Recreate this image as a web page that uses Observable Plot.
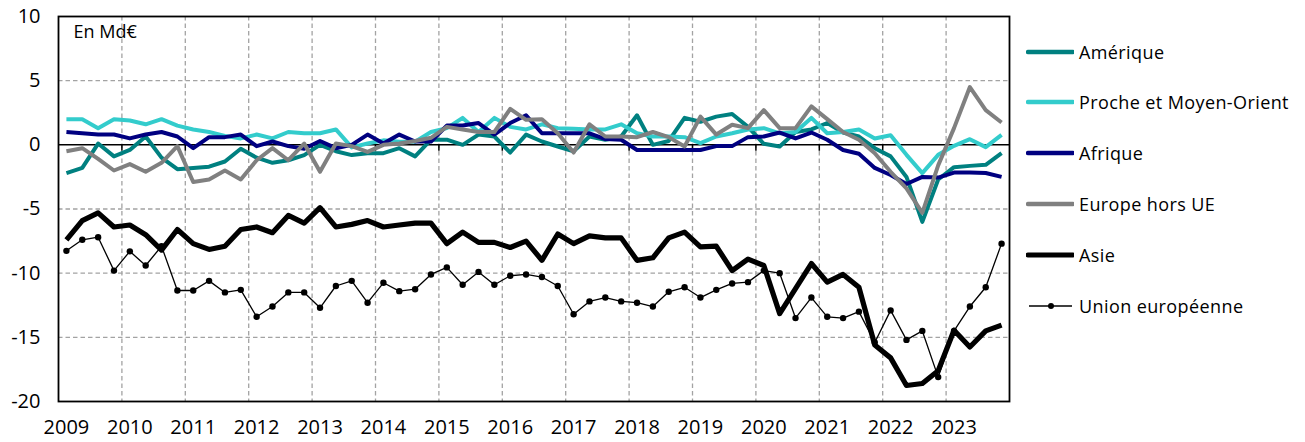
<!DOCTYPE html>
<html><head><meta charset="utf-8">
<script src="https://cdn.jsdelivr.net/npm/d3@7"></script>
<script src="https://cdn.jsdelivr.net/npm/@observablehq/plot@0.6"></script>
<style>
body{margin:0;background:#fff;font-family:"Open Sans",sans-serif;}
#wrap{position:relative;width:1305px;height:442px;overflow:hidden;}
#chart{position:absolute;left:0;top:0;}
#legend{position:absolute;left:1026px;top:0;width:279px;height:442px;}
.item{position:absolute;left:0;height:24px;display:flex;align-items:center;white-space:nowrap;font-size:18px;letter-spacing:0.4px;color:#000;}
.item svg{display:block;margin-right:5px;}
</style></head><body>
<div id="wrap"><div id="chart"></div><div id="legend"></div></div>
<script>
const startYear = 2009;
const years = [2009,2010,2011,2012,2013,2014,2015,2016,2017,2018,2019,2020,2021,2022,2023];
const yTicks = [-20,-15,-10,-5,0,5,10];
const unitLabel = "En Md€";
const seriesNames = ["Amérique","Proche et Moyen-Orient","Afrique","Europe hors UE","Asie","Union européenne"];
const seriesColors = ["#008080","#33cccc","#000080","#808080","#000000","#000000"];

const amerique = [-2.2,-1.8,0.1,-0.9,-0.4,0.65,-1.0,-1.9,-1.8,-1.7,
  -1.3,-0.3,-1.0,-1.4,-1.2,-0.8,0.0,-0.5,-0.8,-0.65,
  -0.65,-0.26,-0.9,0.4,0.4,0.0,0.8,0.65,-0.6,0.8,
  0.26,-0.13,-0.5,0.65,0.4,0.65,2.3,0.0,0.3,2.1,
  1.8,2.2,2.4,1.4,0.08,-0.13,1.0,1.2,1.7,0.96,
  0.65,-0.26,-0.9,-2.5,-6.0,-2.7,-1.74,-1.64,-1.56,-0.65];
const proche = [2.0,2.0,1.3,2.0,1.9,1.6,2.0,1.5,1.2,1.0,
  0.7,0.5,0.8,0.5,1.0,0.9,0.9,1.2,-0.2,0.1,
  0.35,0.25,0.25,1.0,1.3,2.1,1.0,2.1,1.4,1.2,
  1.6,1.3,1.25,1.2,1.2,1.6,0.9,0.65,0.65,0.6,
  0.13,0.65,0.9,1.2,1.3,0.9,1.0,2.1,0.9,1.0,
  1.2,0.5,0.75,-0.78,-2.2,-0.78,-0.08,0.44,-0.18,0.78];
const afrique = [1.0,0.9,0.8,0.8,0.5,0.8,1.0,0.65,-0.26,0.6,
  0.6,0.8,-0.1,0.26,-0.1,-0.3,0.3,-0.26,0.0,0.8,
  0.1,0.8,0.26,0.26,1.5,1.5,1.7,0.8,1.7,2.3,
  0.9,0.9,0.9,0.9,0.45,0.4,-0.4,-0.4,-0.4,-0.4,
  -0.4,-0.1,-0.1,0.6,0.65,0.96,0.5,0.96,0.4,-0.4,
  -0.7,-1.8,-2.35,-3.05,-2.5,-2.55,-2.16,-2.16,-2.2,-2.5];
const europeHorsUE = [-0.5,-0.26,-1.1,-2.0,-1.5,-2.1,-1.4,-0.1,-2.9,-2.7,
  -2.0,-2.7,-1.2,-0.26,-1.2,0.1,-2.1,0.1,-0.1,-0.55,
  0.0,0.1,0.3,0.55,1.4,1.2,1.0,1.0,2.8,1.95,
  2.0,0.9,-0.6,1.6,0.65,0.65,0.6,1.0,0.6,-0.13,
  2.2,0.8,1.56,1.3,2.7,1.3,1.3,3.0,2.0,1.0,
  0.4,-0.65,-2.1,-3.4,-5.3,-1.6,1.3,4.5,2.7,1.74];
const asie = [-7.4,-5.9,-5.3,-6.4,-6.25,-7.0,-8.2,-6.6,-7.7,-8.15,
  -7.9,-6.6,-6.4,-6.85,-5.5,-6.1,-4.9,-6.4,-6.2,-5.9,
  -6.4,-6.25,-6.1,-6.1,-7.7,-6.8,-7.6,-7.6,-8.0,-7.5,
  -9.0,-6.95,-7.7,-7.1,-7.25,-7.25,-9.0,-8.8,-7.25,-6.8,
  -7.95,-7.9,-9.8,-8.9,-9.4,-13.15,-11.2,-9.25,-10.7,-10.1,
  -11.1,-15.6,-16.6,-18.75,-18.6,-17.6,-14.45,-15.75,-14.5,-14.05];
const unionEuropeenne = [-8.26,-7.4,-7.2,-9.8,-8.3,-9.4,-7.9,-11.35,-11.35,-10.6,
  -11.5,-11.3,-13.4,-12.6,-11.5,-11.5,-12.7,-11.0,-10.6,-12.3,
  -10.75,-11.4,-11.25,-10.1,-9.55,-10.9,-9.9,-10.9,-10.2,-10.1,
  -10.3,-11.0,-13.2,-12.2,-11.9,-12.2,-12.3,-12.6,-11.45,-11.1,
  -11.9,-11.3,-10.8,-10.7,-9.8,-10.0,-13.5,-11.9,-13.4,-13.5,
  -13.0,-15.4,-12.9,-15.2,-14.5,-18.1,-14.5,-12.6,-11.1,-7.7];

const seriesValues = [amerique, proche, afrique, europeHorsUE, asie, unionEuropeenne];
const widths = [4, 4, 4, 4, 5.2, 1.3];

const qx = i => startYear + i / 4 + 0.125;
const rows = seriesValues.map((vals, s) => vals.map((v, i) => ({series: seriesNames[s], x: qx(i), y: v})));

const grid = {stroke: "#a3a3a3", strokeDasharray: "4.5,3", strokeWidth: 1.3};
const boundaries = years.slice(1);

const lineMarks = rows.map((data, s) => Plot.line(data, {
  x: "x", y: "y", stroke: seriesColors[s], strokeWidth: widths[s],
  strokeLinejoin: "round", strokeLinecap: "butt"
}));

const chart = Plot.plot({
  width: 1020, height: 442,
  marginLeft: 58, marginRight: 11, marginTop: 16, marginBottom: 41,
  style: {fontFamily: "Open Sans, sans-serif", fontSize: "20px", background: "white", color: "#000"},
  x: {domain: [2009, 2024], label: null, axis: null},
  y: {domain: [-20, 10], label: null, axis: null},
  marks: [
    Plot.ruleY([5, -5, -10, -15], grid),
    Plot.ruleX(boundaries, grid),
    Plot.ruleY([0], {stroke: "#000", strokeWidth: 1.5}),
    Plot.ruleX(boundaries, {y1: 0, y2: -0.5, stroke: "#000", strokeWidth: 1.5}),
    Plot.text(yTicks, {y: d => d, text: d => String(d), frameAnchor: "left", dx: -18, textAnchor: "end", lineAnchor: "middle", fontSize: 20, fill: "#000"}),
    Plot.text(years, {x: d => qx((d - startYear) * 4), text: d => String(d), frameAnchor: "bottom", dy: 26, textAnchor: "middle", lineAnchor: "middle", fontSize: 20, fill: "#000", letterSpacing: "0.5px"}),
    ...lineMarks,
    Plot.dot(rows[5], {x: "x", y: "y", r: 3.2, fill: "#000", stroke: "none"}),
    Plot.frame({stroke: "#000", strokeWidth: 1.8}),
    Plot.text([unitLabel], {frameAnchor: "top-left", dx: 15, dy: 16, lineAnchor: "middle", textAnchor: "start", fontSize: 18, fill: "#000"})
  ]
});
document.getElementById("chart").appendChild(chart);

const legendY = [52, 102, 153, 204, 255, 306];
const legend = document.getElementById("legend");
seriesNames.forEach((name, s) => {
  const item = document.createElement("div");
  item.className = "item";
  item.style.top = (legendY[s] - 12) + "px";
  let sw;
  if (s === 5) {
    sw = `<svg width="48" height="12"><line x1="3" x2="46" y1="6" y2="6" stroke="#000" stroke-width="1.3"/><circle cx="25" cy="6" r="3" fill="#000"/></svg>`;
  } else {
    sw = `<svg width="48" height="12"><line x1="2" x2="47" y1="6" y2="6" stroke="${seriesColors[s]}" stroke-width="${s===4?5:4.5}" stroke-linecap="round"/></svg>`;
  }
  item.innerHTML = sw + `<span>${name}</span>`;
  legend.appendChild(item);
});
</script>
</body></html>
